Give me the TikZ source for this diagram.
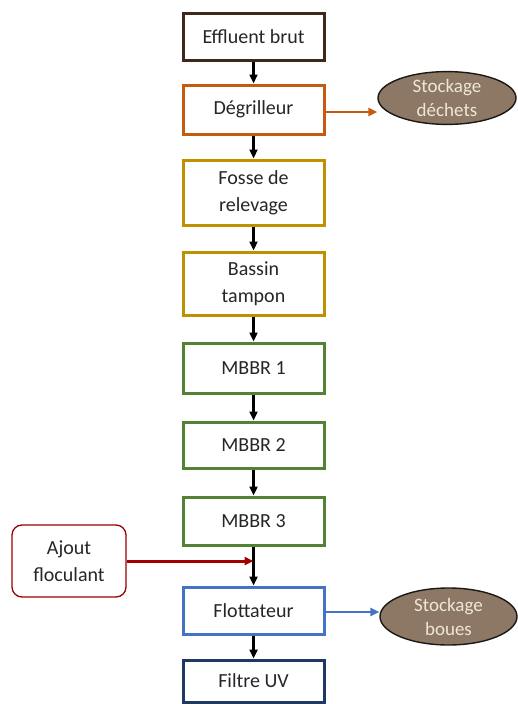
\documentclass[tikz,border=0pt]{standalone}
\usepackage{fontspec}
\setmainfont{Carlito}
\usetikzlibrary{arrows.meta,shapes.geometric}
\definecolor{cbrown}{RGB}{62,40,25}
\definecolor{corange}{RGB}{197,90,17}
\definecolor{cgold}{RGB}{191,144,0}
\definecolor{cgreen}{RGB}{84,130,53}
\definecolor{cblue}{RGB}{68,114,196}
\definecolor{cnavy}{RGB}{31,56,100}
\definecolor{cred}{RGB}{192,0,0}
\definecolor{cfill}{RGB}{140,120,100}
\definecolor{ctext}{RGB}{240,230,215}
\tikzset{
  stepbox/.style={draw, line width=3pt, fill=white, minimum width=141pt, align=center, inner sep=1pt, font=\fontsize{20}{27}\selectfont, text=black!85},
  store/.style={ellipse, draw=black!80!cfill, line width=1.4pt, fill=cfill, text=ctext, align=center, font=\fontsize{19}{24}\selectfont, inner sep=0pt},
  flow/.style={-{Triangle[length=9pt,width=8pt]}, line width=2.4pt, black},
}
\begin{document}
\begin{tikzpicture}[x=1pt,y=-1pt]
\useasboundingbox (0,0) rectangle (518,704);
\node[stepbox, draw=cbrown, minimum height=47pt] (a) at (253.5,36.5) {Effluent brut};
\node[stepbox, draw=corange, minimum height=49pt] (b) at (253.5,109.5) {Dégrilleur};
\node[stepbox, draw=cgold, minimum height=65pt] (c) at (253.5,192.5) {Fosse de\\relevage};
\node[stepbox, draw=cgold, minimum height=63pt] (d) at (253.5,283.5) {Bassin\\tampon};
\node[stepbox, draw=cgreen, minimum height=50pt] (e) at (253.5,368) {MBBR 1};
\node[stepbox, draw=cgreen, minimum height=46pt] (f) at (253.5,445) {MBBR 2};
\node[stepbox, draw=cgreen, minimum height=48pt] (g) at (253.5,521) {MBBR 3};
\node[stepbox, draw=cblue, minimum height=47pt] (h) at (253.5,610.5) {Flottateur};
\node[stepbox, draw=cnavy, minimum height=42pt] (i) at (253.5,681) {Filtre UV};
\node[stepbox, draw=cred!80!black, line width=1.3pt, rounded corners=10pt, minimum width=114pt, minimum height=72pt] (fl) at (69,561) {Ajout\\floculant};
\node[store, minimum width=138pt, minimum height=50pt] (sd) at (447,98) {Stockage\\déchets};
\node[store, minimum width=137pt, minimum height=57pt] (sb) at (448.5,616.5) {Stockage\\boues};
\coordinate (j) at (253.5,561);
\draw[flow] (a) -- (b);
\draw[flow] (b) -- (c);
\draw[flow] (c) -- (d);
\draw[flow] (d) -- (e);
\draw[flow] (e) -- (f);
\draw[flow] (f) -- (g);
\draw[flow] (g) -- (h);
\draw[flow] (h) -- (i);
\draw[flow, cred!85!black, line width=3pt] (fl) -- (j);
\draw[flow, corange, line width=2.4pt] (b.east |- 0,112) -- (sd.west |- 0,112);
\draw[flow, cblue, line width=2.4pt] (h.east |- 0,612) -- (sb.west |- 0,612);
\end{tikzpicture}
\end{document}
